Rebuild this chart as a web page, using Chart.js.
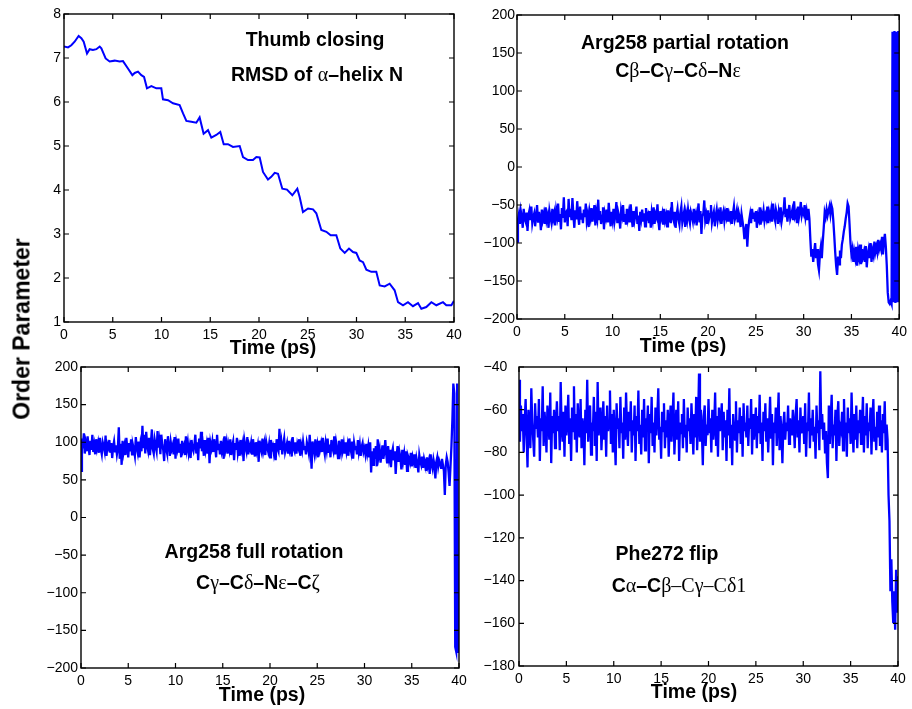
<!DOCTYPE html>
<html><head><meta charset="utf-8">
<script src="https://cdn.jsdelivr.net/npm/chart.js@4.4.0/dist/chart.umd.min.js"></script>
<style>
html,body{margin:0;padding:0;background:#fff;}
#wrap{position:relative;width:912px;height:709px;overflow:hidden;background:#fff;}
canvas{position:absolute;left:0;top:0;}
#ylab{position:absolute;left:22px;top:329px;transform:translate(-50%,-50%) rotate(-90deg);font:bold 23px "Liberation Sans",Arial,sans-serif;white-space:nowrap;color:#000;}
</style></head><body>
<div id="wrap">
<canvas id="c1" width="912" height="709"></canvas>
<canvas id="c2" width="912" height="709"></canvas>
<canvas id="c3" width="912" height="709"></canvas>
<canvas id="c4" width="912" height="709"></canvas>
<div id="ylab">Order Parameter</div>
</div>
<script>
// ---- Data ----
const timeThumb = [0,0.41,0.75,1.09,1.50,1.78,2.02,2.36,2.63,2.97,3.32,3.66,3.83,4.27,4.68,5.20,5.71,6.05,6.56,7.01,7.25,7.59,7.93,8.21,8.51,8.96,9.47,9.98,10.15,10.67,11.18,11.86,12.21,12.55,13.06,13.57,13.91,14.32,14.77,15.11,15.62,16.03,16.38,16.82,17.33,18.02,18.36,18.87,19.38,19.73,20.07,20.41,20.92,21.26,21.61,21.95,22.39,22.87,23.42,23.93,24.17,24.51,25.03,25.54,25.88,26.39,26.91,27.35,27.93,28.34,28.79,29.23,29.64,29.98,30.32,30.67,31.01,31.52,32.03,32.38,32.89,33.40,33.91,34.26,34.77,35.28,35.79,36.31,36.65,37.16,37.68,38.19,38.87,39.21,39.73,40];
const rmsdThumb = [7.26,7.24,7.29,7.37,7.50,7.45,7.37,7.10,7.20,7.18,7.20,7.26,7.22,6.99,6.92,6.94,6.92,6.93,6.76,6.61,6.66,6.69,6.61,6.57,6.31,6.36,6.31,6.31,6.06,6.04,5.97,5.93,5.74,5.57,5.55,5.53,5.65,5.28,5.36,5.19,5.25,5.32,5.04,5.04,4.98,5.00,4.75,4.68,4.68,4.75,4.74,4.41,4.24,4.30,4.39,4.37,4.03,4.01,3.88,4.03,3.84,3.50,3.58,3.56,3.47,3.09,3.05,2.97,2.97,2.67,2.57,2.67,2.59,2.57,2.40,2.36,2.19,2.14,2.14,1.83,1.81,1.87,1.72,1.45,1.38,1.45,1.36,1.43,1.30,1.34,1.45,1.38,1.45,1.38,1.38,1.48];

// uniformly sampled over 0..40 ps
const partialRot = [
-98,-70,-62,-75,-58,-66,-80,-55,-68,-72,-60,-84,-63,-57,-70,-52,-74,-66,-61,-78,
-64,-50,-72,-59,-67,-83,-56,-69,-62,-75,-53,-70,-64,-80,-58,-66,-73,-55,-68,-61,
-77,-57,-65,-48,-71,-62,-82,-54,-67,-40,-73,-60,-58,-78,-42,-66,-55,-70,-41,-63,
-80,-57,-69,-45,-64,-76,-52,-68,-61,-74,-56,-66,-48,-71,-63,-79,-59,-67,-54,-72,
-62,-50,-77,-60,-68,-43,-70,-58,-75,-64,-53,-82,-61,-67,-56,-73,-47,-65,-78,-59,
-69,-55,-72,-63,-46,-74,-60,-66,-81,-57,-64,-50,-71,-62,-76,-55,-68,-60,-73,-49,
-66,-79,-58,-70,-62,-52,-75,-64,-84,-59,-68,-56,-72,-61,-78,-54,-67,-63,-74,-58,
-80,-60,-69,-53,-75,-62,-66,-49,-72,-83,-58,-67,-61,-76,-55,-70,-64,-78,-57,-68,
-62,-74,-46,-66,-71,-59,-80,-63,-55,-69,-76,-60,-52,-73,-65,-58,-79,-62,-70,-56,
-67,-74,-59,-64,-71,-55,-68,-62,-77,-60,-48,-73,-58,-88,-65,-61,-44,-70,-63,-75,
-57,-68,-62,-50,-73,-65,-59,-78,-64,-56,-70,-61,-67,-53,-75,-63,-58,-71,-60,-66,
-54,-72,-62,-68,-58,-75,-61,-52,-69,-64,-57,-73,-60,-66,-79,-62,-71,-80,-95,-84,
-75,-105,-82,-70,-62,-74,-55,-67,-60,-72,-58,-80,-64,-69,-53,-76,-61,-66,-57,-71,
-63,-68,-52,-74,-60,-66,-57,-72,-48,-64,-70,-56,-62,-75,-59,-67,-53,-71,-63,-58,
-40,-66,-55,-72,-60,-50,-68,-63,-57,-70,-45,-65,-61,-74,-52,-67,-59,-46,-64,-58,
-62,-50,-66,-58,-70,-55,-68,-95,-118,-108,-125,-112,-100,-120,-108,-128,-136,-115,-105,-120,
-98,-80,-60,-66,-56,-64,-58,-52,-62,-50,-55,-70,-90,-112,-130,-142,-118,-128,-110,-120,
-102,-95,-85,-78,-68,-60,-48,-52,-75,-100,-115,-108,-125,-112,-120,-105,-130,-110,-118,-102,
-128,-108,-118,-112,-125,-104,-132,-115,-108,-120,-100,-125,-110,-116,-98,-112,-105,-112,-96,-108,
-102,-108,-92,-115,-98,-88,-105,-130,-165,-178,-180,-176,-180,178,-178,179,-179,178,-178,179,
-178];

const fullRot = [
62,105,92,112,85,98,88,108,94,83,102,90,110,87,96,84,104,92,99,86,
106,91,84,100,95,88,109,82,97,93,103,86,99,79,94,101,88,96,84,92,
120,78,98,70,102,87,95,83,106,92,80,99,88,104,84,96,90,82,107,93,
86,101,80,97,88,122,92,110,85,114,96,89,106,83,100,117,91,85,103,95,
88,115,93,102,84,110,97,90,75,104,92,86,108,95,82,100,91,96,84,107,
78,99,92,105,86,98,80,102,90,95,83,108,91,100,86,94,79,103,92,88,
97,110,85,100,76,105,92,114,88,96,82,103,90,98,85,106,72,99,92,101,
87,104,93,80,110,91,98,84,102,89,96,78,108,92,100,85,97,90,104,83,
95,101,76,99,90,106,86,94,82,103,91,98,75,102,94,88,107,84,96,91,
99,85,104,93,81,100,89,96,74,102,92,87,105,90,98,83,101,94,88,97,
80,103,91,95,86,99,76,104,92,88,118,90,100,84,97,105,87,93,99,85,
102,90,96,81,107,92,88,100,85,98,93,104,82,96,89,101,91,95,84,100,
94,86,110,90,65,101,93,85,104,88,96,80,102,91,98,87,106,92,84,99,
90,105,86,97,80,103,93,88,108,84,100,92,79,102,95,87,104,90,98,85,
100,88,96,82,105,93,86,101,78,99,91,95,84,103,88,97,82,94,99,87,
92,84,98,86,95,80,100,60,88,70,92,78,95,68,104,82,90,73,85,96,
78,88,103,84,72,95,80,90,67,86,92,76,88,58,82,95,74,87,80,64,
90,76,85,70,88,62,82,78,73,86,68,80,74,84,66,79,72,60,83,75,
70,81,66,78,72,62,80,69,75,58,84,71,65,77,70,52,74,80,68,76,
72,66,78,70,62,30,70,80,74,60,42,68,95,130,178,165,-172,-178,178,-180,
-150];

const pheFlip = [
-46,-75,-58,-70,-62,-80,-65,-55,-72,-87,-60,-68,-78,-50,-66,-74,-82,-57,-69,-63,
-73,-55,-84,-64,-70,-49,-77,-61,-68,-80,-58,-66,-74,-52,-85,-63,-71,-60,-78,-67,
-56,-70,-63,-79,-47,-68,-75,-61,-82,-58,-72,-66,-53,-76,-64,-84,-59,-70,-49,-74,
-62,-80,-57,-69,-73,-55,-78,-64,-68,-86,-60,-71,-46,-75,-63,-58,-81,-66,-70,-54,
-77,-61,-84,-47,-72,-65,-59,-79,-68,-56,-74,-63,-82,-58,-70,-66,-51,-76,-62,-80,
-60,-73,-86,-57,-69,-64,-78,-54,-71,-66,-83,-59,-74,-52,-68,-77,-61,-70,-56,-80,
-65,-72,-58,-84,-63,-70,-51,-76,-67,-81,-60,-73,-55,-79,-64,-69,-58,-85,-62,-71,
-54,-77,-66,-80,-59,-72,-63,-50,-74,-68,-83,-61,-70,-57,-78,-65,-73,-60,-82,-67,
-58,-75,-64,-52,-81,-69,-60,-74,-56,-84,-66,-71,-62,-78,-55,-73,-67,-80,-59,-70,
-64,-76,-57,-68,-81,-62,-73,-54,-79,-65,-43,-75,-60,-70,-86,-63,-58,-77,-67,-72,
-55,-71,-64,-80,-60,-74,-68,-52,-77,-63,-82,-59,-70,-66,-57,-79,-61,-73,-65,-84,
-60,-72,-50,-78,-67,-86,-62,-69,-74,-56,-80,-65,-71,-59,-76,-63,-82,-57,-70,-66,
-73,-58,-77,-64,-69,-55,-81,-62,-74,-67,-59,-78,-63,-71,-53,-76,-66,-84,-61,-70,
-57,-75,-64,-80,-68,-54,-73,-62,-86,-66,-71,-59,-77,-65,-52,-79,-63,-70,-85,-67,
-61,-74,-66,-70,-58,-76,-64,-69,-72,-60,-67,-78,-62,-55,-73,-65,-80,-59,-71,-68,
-63,-76,-57,-82,-66,-70,-52,-78,-64,-72,-60,-75,-68,-83,-58,-71,-65,-79,-42,-69,
-62,-74,-66,-80,-70,-85,-92,-58,-76,-64,-53,-78,-67,-72,-60,-84,-63,-56,-77,-68,
-70,-61,-79,-55,-73,-66,-82,-59,-71,-64,-76,-52,-69,-80,-62,-74,-58,-78,-65,-71,
-60,-76,-67,-54,-80,-63,-72,-57,-78,-66,-70,-59,-81,-64,-55,-75,-68,-79,-61,-73,
-58,-77,-65,-80,-62,-71,-56,-79,-67,-74,-100,-112,-145,-130,-150,-160,-145,-163,-135,-155,
-138];

const TIME_MIN = 0, TIME_MAX = 40, TIME_STEP = 5;
const xTitleText = 'Time (ps)';

// ---- helpers ----
function paired(times, vals){ return vals.map((v,i)=>({x:times[i], y:v})); }
function uniform(vals){ const n=vals.length; return vals.map((v,i)=>({x:TIME_MAX*i/(n-1), y:v})); }

const SANS = '"Liberation Sans", Arial, Helvetica, sans-serif';
const SERIF = '"Liberation Serif", "Times New Roman", "DejaVu Serif", serif';
const B = 'bold 19.5px ' + SANS;
const G = '20px ' + SERIF;

function richText(ctx, segs, cx, cy){
  let w = 0;
  segs.forEach(s=>{ ctx.font = s[1]; w += ctx.measureText(s[0]).width; });
  let x = cx - w/2;
  ctx.textBaseline = 'middle'; ctx.textAlign = 'left'; ctx.fillStyle = '#000';
  segs.forEach(s=>{ ctx.font = s[1]; ctx.fillText(s[0], x, cy); x += ctx.measureText(s[0]).width; });
}

const framePlugin = {
  id: 'frame',
  afterDatasetsDraw(chart, args, opts){
    const {ctx, chartArea:a} = chart;
    const xs = chart.scales.x, ys = chart.scales.y;
    const L = 5;
    ctx.save();
    ctx.strokeStyle = '#000'; ctx.lineWidth = 1.2;
    ctx.beginPath();
    xs.ticks.forEach(t=>{
      const px = xs.getPixelForValue(t.value);
      ctx.moveTo(px, a.bottom); ctx.lineTo(px, a.bottom - L);
      ctx.moveTo(px, a.top); ctx.lineTo(px, a.top + L);
    });
    ys.ticks.forEach(t=>{
      const py = ys.getPixelForValue(t.value);
      ctx.moveTo(a.left, py); ctx.lineTo(a.left + L, py);
      ctx.moveTo(a.right, py); ctx.lineTo(a.right - L, py);
    });
    ctx.stroke();
    ctx.lineWidth = 1.4;
    ctx.strokeRect(a.left, a.top, a.right - a.left, a.bottom - a.top);
    (opts.notes || []).forEach(n=>richText(ctx, n.segs, n.x, n.y));
    if (opts.xTitle) richText(ctx, [[xTitleText, B]], opts.xTitle.x, opts.xTitle.y);
    ctx.restore();
  }
};

const minusFmt = v => String(v).replace('-', '\u2212');
const padFmt = v => { let s = String(v).replace('-', '\u2212'); if (Math.abs(v) < 100) s += '\u2007'; return s; };

function makePanel(id, data, p){
  return new Chart(document.getElementById(id), {
    type: 'line',
    data: { datasets: [{ data, borderColor: '#0000ff', borderWidth: p.lw, pointRadius: 0, tension: 0, fill: false }] },
    options: {
      responsive: false, animation: false, events: [],
      layout: { padding: p.pad },
      plugins: { legend: {display:false}, tooltip: {enabled:false}, frame: { notes: p.notes, xTitle: p.xTitle } },
      scales: {
        x: { type: 'linear', min: TIME_MIN, max: TIME_MAX,
             grid: {display:false, drawTicks:false}, border: {display:false},
             ticks: { stepSize: TIME_STEP, autoSkip: false, maxRotation: 0, padding: p.xpad,
                      font: {family: SANS, size: 14}, color: '#000' },
             afterFit(s){ s.height = p.xH; } },
        y: { type: 'linear', min: p.yMin, max: p.yMax,
             grid: {display:false, drawTicks:false}, border: {display:false},
             ticks: { stepSize: p.yStep, padding: p.ypad, font: {family: SANS, size: 14}, color: '#000',
                      callback: p.yFmt },
             afterFit(s){ s.width = p.yW; } }
      }
    },
    plugins: [framePlugin]
  });
}

makePanel('c1', paired(timeThumb, rmsdThumb), {
  pad: {left:0, top:14, right:458, bottom:349}, yW: 64, xH: 38, xpad: 5, ypad: 3, lw: 2,
  yMin: 1, yMax: 8, yStep: 1, yFmt: minusFmt,
  xTitle: {x:273, y:349},
  notes: [
    {segs:[['Thumb closing', B]], x:315, y:41},
    {segs:[['RMSD of ', B], ['\u03b1', G], ['\u2013helix N', B]], x:317, y:76}
  ]
});
makePanel('c2', uniform(partialRot), {
  pad: {left:462, top:15, right:9, bottom:349}, yW: 55, xH: 41, xpad: 5, ypad: 2, lw: 2.3,
  yMin: -200, yMax: 200, yStep: 50, yFmt: minusFmt,
  xTitle: {x:683, y:347},
  notes: [
    {segs:[['Arg258 partial rotation', B]], x:685, y:44},
    {segs:[['C', B], ['\u03b2', G], ['\u2013C', B], ['\u03b3', G], ['\u2013C', B], ['\u03b4', G], ['\u2013N', B], ['\u03b5', G]], x:678, y:72}
  ]
});
makePanel('c3', uniform(fullRot), {
  pad: {left:0, top:367, right:453, bottom:0}, yW: 81, xH: 41, xpad: 5, ypad: 3, lw: 2.3,
  yMin: -200, yMax: 200, yStep: 50, yFmt: minusFmt,
  xTitle: {x:262, y:696},
  notes: [
    {segs:[['Arg258 full rotation', B]], x:254, y:553},
    {segs:[['C', B], ['\u03b3', G], ['\u2013C', B], ['\u03b4', G], ['\u2013N', B], ['\u03b5', G], ['\u2013C', B], ['\u03b6', G]], x:258, y:584}
  ]
});
makePanel('c4', uniform(pheFlip), {
  pad: {left:462, top:367, right:14, bottom:0}, yW: 57, xH: 43, xpad: 5, ypad: 4, lw: 2.3,
  yMin: -180, yMax: -40, yStep: 20, yFmt: padFmt,
  xTitle: {x:694, y:693},
  notes: [
    {segs:[['Phe272 flip', B]], x:667, y:555},
    {segs:[['C', B], ['\u03b1', G], ['\u2013C', B], ['\u03b2', G], ['\u2013C\u03b3\u2013C\u03b41', G]], x:679, y:587}
  ]
});
</script>
</body></html>
